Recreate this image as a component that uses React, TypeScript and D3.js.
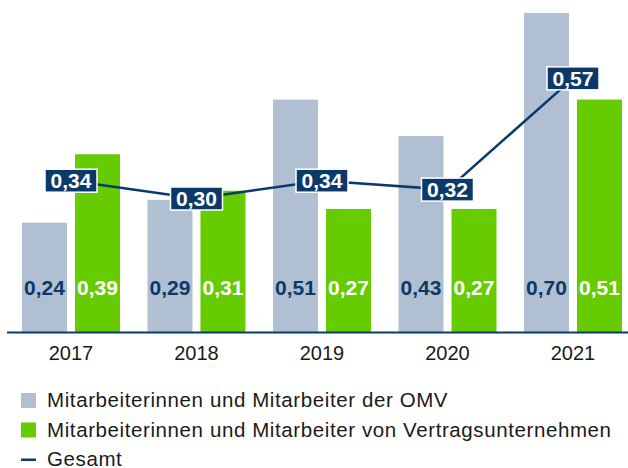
import React, { useRef, useEffect } from 'react';
import * as d3 from 'd3';

const years = ['2017', '2018', '2019', '2020', '2021'];
const omv = [0.24, 0.29, 0.51, 0.43, 0.70];
const contractors = [0.39, 0.31, 0.27, 0.27, 0.51];
const total = [0.34, 0.30, 0.34, 0.32, 0.57];
const legendLabels = [
  'Mitarbeiterinnen und Mitarbeiter der OMV',
  'Mitarbeiterinnen und Mitarbeiter von Vertragsunternehmen',
  'Gesamt',
];

const GREY = '#b0c0d2';
const GREEN = '#66cc00';
const NAVY = '#0b3a6a';
const FONT = '"Liberation Sans", Arial, sans-serif';

const fmt = (v: number) => v.toFixed(2).replace('.', ',');

const Chart = ({ width, height }: { width: number; height: number }) => {
  const svgRef = useRef<SVGSVGElement>(null);

  useEffect(() => {
    const svg = d3.select(svgRef.current);
    svg.selectAll('*').remove();

    const baseline = 332;

    // group centers
    const x = d3.scalePoint<string>().domain(years).range([71, 573]);
    // bars inside a group
    const x1 = d3.scaleBand<string>().domain(['omv', 'con']).range([-49, 49]).paddingInner(0.151);

    const y = d3.scaleLinear().domain([0, 0.7]).range([baseline, 13]);
    // the line sits on a slightly flatter scale than the bars
    const yLine = d3.scaleLinear().domain([0, 1]).range([baseline, baseline - 445]);

    const g = svg.append('g');

    const series = [
      { key: 'omv', values: omv, fill: GREY, text: NAVY },
      { key: 'con', values: contractors, fill: GREEN, text: '#ffffff' },
    ];

    series.forEach(s => {
      g.selectAll(`rect.${s.key}`)
        .data(s.values)
        .enter().append('rect')
        .attr('x', (d, i) => (x(years[i]) as number) + (x1(s.key) as number))
        .attr('y', d => y(d))
        .attr('width', x1.bandwidth())
        .attr('height', d => baseline - y(d))
        .attr('fill', s.fill);

      g.selectAll(`text.${s.key}`)
        .data(s.values)
        .enter().append('text')
        .attr('x', (d, i) => (x(years[i]) as number) + (x1(s.key) as number) + x1.bandwidth() / 2)
        .attr('y', 294.5)
        .attr('text-anchor', 'middle')
        .style('font-family', FONT)
        .style('font-weight', 'bold')
        .style('font-size', '21px')
        .attr('fill', s.text)
        .text(d => fmt(d));
    });

    // axis line
    g.append('line')
      .attr('x1', 7).attr('x2', width)
      .attr('y1', baseline + 0.5).attr('y2', baseline + 0.5)
      .attr('stroke', NAVY)
      .attr('stroke-width', 2);

    // year labels
    g.selectAll('text.year')
      .data(years)
      .enter().append('text')
      .attr('x', d => x(d) as number)
      .attr('y', 360)
      .attr('text-anchor', 'middle')
      .style('font-family', FONT)
      .style('font-size', '20px')
      .attr('fill', '#1a1a1a')
      .text(d => d);

    // total line
    const line = d3.line<number>()
      .x((d, i) => x(years[i]) as number)
      .y(d => yLine(d));

    g.append('path')
      .datum(total)
      .attr('fill', 'none')
      .attr('stroke', NAVY)
      .attr('stroke-width', 2.5)
      .attr('d', line);

    const boxes = g.selectAll('g.box')
      .data(total)
      .enter().append('g')
      .attr('transform', (d, i) => `translate(${x(years[i])},${yLine(d)})`);

    boxes.append('rect')
      .attr('x', -26).attr('y', -11.5)
      .attr('width', 52).attr('height', 23)
      .attr('fill', NAVY)
      .attr('stroke', '#ffffff')
      .attr('stroke-width', 1.5);

    boxes.append('text')
      .attr('y', 7.5)
      .attr('text-anchor', 'middle')
      .style('font-family', FONT)
      .style('font-weight', 'bold')
      .style('font-size', '21px')
      .attr('fill', '#ffffff')
      .text(d => fmt(d));

    // legend
    const legend = svg.append('g').attr('transform', 'translate(21,393)');
    legendLabels.forEach((label, i) => {
      const row = legend.append('g').attr('transform', `translate(0,${i * 29.5})`);
      if (i < 2) {
        row.append('rect')
          .attr('width', 15).attr('height', 15)
          .attr('fill', i === 0 ? GREY : GREEN);
      } else {
        row.append('rect')
          .attr('y', 6.5).attr('width', 15).attr('height', 2.5)
          .attr('fill', NAVY);
      }
      row.append('text')
        .attr('x', 26)
        .attr('y', 14)
        .style('font-family', FONT)
        .style('font-size', '20.5px')
        .style('letter-spacing', '0.6px')
        .attr('fill', '#1a1a1a')
        .text(label);
    });
  }, [width, height]);

  return <svg ref={svgRef} width={width} height={height} style={{ position: 'absolute', left: 0, top: 0 }} />;
};

export default function App() {
  return <Chart width={628} height={468} />;
}
